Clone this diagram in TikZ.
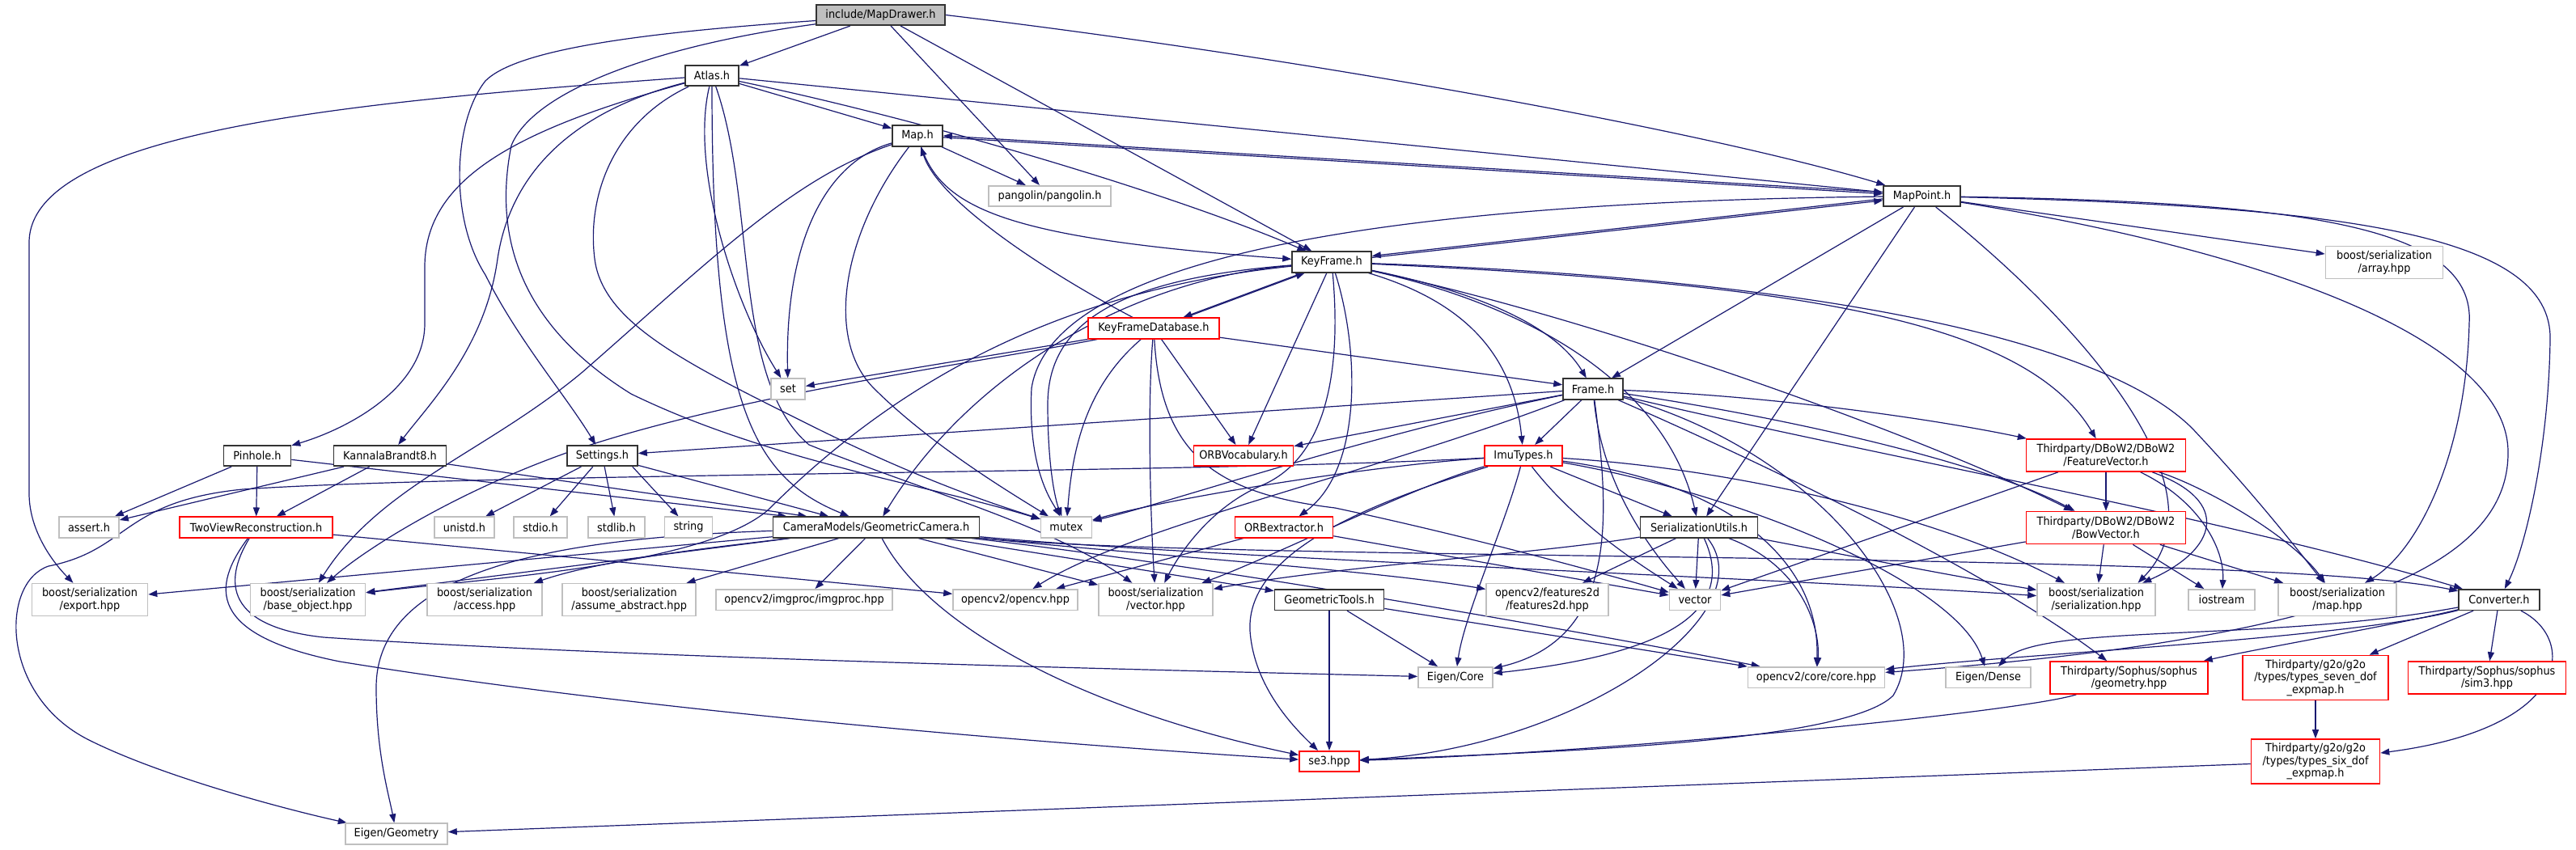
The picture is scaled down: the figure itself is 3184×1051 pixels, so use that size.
\documentclass[tikz,border=0pt]{standalone}
\usepackage{fontspec}
\setmainfont[FakeStretch=0.92]{DejaVu Sans}
\usetikzlibrary{arrows.meta}
\definecolor{eblue}{HTML}{191970}
\definecolor{gborder}{HTML}{BFBFBF}
\definecolor{bborder}{HTML}{333333}
\definecolor{rborder}{HTML}{FF0000}
\definecolor{rootfill}{HTML}{BFBFBF}
\begin{document}
\begin{tikzpicture}[x=1pt,y=-1pt,
  nbase/.style={inner sep=0pt, minimum height=25.5pt, align=center, text=black, font=\fontsize{14}{15.5}\selectfont, fill=white},
  nb/.style={nbase, draw=bborder, line width=1.6pt},
  nr/.style={nbase, draw=rborder, line width=1.6pt},
  ng/.style={nbase, draw=gborder, line width=1.6pt},
  nroot/.style={nbase, draw=bborder, fill=rootfill, line width=1.6pt},
  htwo/.style={minimum height=40pt},
  hthree/.style={minimum height=55pt},
  edg/.style={draw=eblue, line width=1.2pt, -{Triangle[length=11pt,width=8pt]}}]
\fill[white] (0,0) rectangle (3184,1051);
\useasboundingbox (0,0) rectangle (3184,1051);

\path
 node[nroot, minimum width=159pt] (MD) at (1088.5,18.5) {include/MapDrawer.h}
 node[nb, minimum width=66pt] (Atlas) at (880,93.5) {Atlas.h}
 node[nb, minimum width=62pt] (Map) at (1134,168) {Map.h}
 node[ng, minimum width=151pt] (pangolin) at (1297.5,242.5) {pangolin/pangolin.h}
 node[nb, minimum width=95pt] (MapPoint) at (2375.5,242.5) {MapPoint.h}
 node[ng, htwo, minimum width=145pt] (array) at (2947,324.5) {boost/serialization\\/array.hpp}
 node[nb, minimum width=98pt] (KeyFrame) at (1646,324) {KeyFrame.h}
 node[nr, minimum width=162pt] (KFD) at (1426,406) {KeyFrameDatabase.h}
 node[ng, minimum width=42pt] (set) at (974,481) {set}
 node[nb, minimum width=74pt] (Frame) at (1969,481) {Frame.h}
 node[nb, minimum width=87pt] (Settings) at (744.5,563.5) {Settings.h}
 node[nb, minimum width=83pt] (Pinhole) at (318,563.5) {Pinhole.h}
 node[nb, minimum width=139pt] (Kannala) at (482,563.5) {KannalaBrandt8.h}
 node[nr, minimum width=123pt] (ORBVoc) at (1537,563.5) {ORBVocabulary.h}
 node[nr, minimum width=96pt] (ImuTypes) at (1883,563.5) {ImuTypes.h}
 node[nr, htwo, minimum width=197pt] (FeatVec) at (2603,563) {Thirdparty/DBoW2/DBoW2\\/FeatureVector.h}
 node[ng, minimum width=74pt] (assert) at (110,652) {assert.h}
 node[nr, minimum width=189pt] (TwoView) at (316.5,652) {TwoViewReconstruction.h}
 node[ng, minimum width=74pt] (unistd) at (574,652) {unistd.h}
 node[ng, minimum width=66pt] (stdio) at (668,652) {stdio.h}
 node[ng, minimum width=70pt] (stdlib) at (762,652) {stdlib.h}
 node[ng, minimum width=59pt] (string) at (851,652) {string}
 node[nb, minimum width=255pt] (GeoCam) at (1083,652) {CameraModels/GeometricCamera.h}
 node[ng, minimum width=63pt] (mutex) at (1318,652) {mutex}
 node[nr, minimum width=121pt] (ORBext) at (1587,652) {ORBextractor.h}
 node[nb, minimum width=145pt] (SerUtils) at (2100,652) {SerializationUtils.h}
 node[nr, htwo, minimum width=197pt] (BowVec) at (2603,652.6) {Thirdparty/DBoW2/DBoW2\\/BowVector.h}
 node[ng, htwo, minimum width=143pt] (export) at (111,741.6) {boost/serialization\\/export.hpp}
 node[ng, htwo, minimum width=142pt] (baseobj) at (380.6,741.6) {boost/serialization\\/base\_object.hpp}
 node[ng, htwo, minimum width=142pt] (access) at (599,741.6) {boost/serialization\\/access.hpp}
 node[ng, htwo, minimum width=165pt] (assume) at (777.7,741.6) {boost/serialization\\/assume\_abstract.hpp}
 node[ng, minimum width=218pt] (imgproc) at (994,741.6) {opencv2/imgproc/imgproc.hpp}
 node[ng, minimum width=154pt] (opencv) at (1255,741.6) {opencv2/opencv.hpp}
 node[ng, htwo, minimum width=141pt] (vectorhpp) at (1428.5,741.6) {boost/serialization\\/vector.hpp}
 node[nb, minimum width=135pt] (GeoTools) at (1643,741.6) {GeometricTools.h}
 node[ng, htwo, minimum width=151pt] (features2d) at (1912.5,741.6) {opencv2/features2d\\/features2d.hpp}
 node[ng, minimum width=63pt] (vector) at (2095,741.6) {vector}
 node[ng, htwo, minimum width=146pt] (serialization) at (2591,741.6) {boost/serialization\\/serialization.hpp}
 node[ng, minimum width=82pt] (iostream) at (2746,741.6) {iostream}
 node[ng, htwo, minimum width=146pt] (maphpp) at (2889,741.6) {boost/serialization\\/map.hpp}
 node[nb, minimum width=100pt] (Converter) at (3089,741.6) {Converter.h}
 node[ng, minimum width=92pt] (EigenCore) at (1799,837.6) {Eigen/Core}
 node[ng, minimum width=169pt] (corehpp) at (2245,837.6) {opencv2/core/core.hpp}
 node[ng, minimum width=105pt] (EigenDense) at (2457.5,837.6) {Eigen/Dense}
 node[nr, htwo, minimum width=195pt] (geometry) at (2631.5,838) {Thirdparty/Sophus/sophus\\/geometry.hpp}
 node[nr, hthree, minimum width=180pt] (sevendof) at (2862,838) {Thirdparty/g2o/g2o\\/types/types\_seven\_dof\\\_expmap.h}
 node[nr, htwo, minimum width=195pt] (sim3) at (3074,838) {Thirdparty/Sophus/sophus\\/sim3.hpp}
 node[nr, minimum width=74pt] (se3) at (1643,941.5) {se3.hpp}
 node[nr, hthree, minimum width=159pt] (sixdof) at (2862,941.5) {Thirdparty/g2o/g2o\\/types/types\_six\_dof\\\_expmap.h}
 node[ng, minimum width=126pt] (EigenGeometry) at (490,1031) {Eigen/Geometry};

% MapDrawer
\draw[edg] (MD) -- (Atlas);
\draw[edg] (MD) -- (pangolin);
\draw[edg] (MD) -- (KeyFrame);
\draw[edg] (MD.east) .. controls (1600,70) and (2100,160) .. (MapPoint);
\draw[edg] (MD.185) .. controls (800,40) and (640,60) .. (600,100) .. controls (560,150) and (555,270) .. (600,340) .. controls (640,420) and (700,490) .. (Settings);
\draw[edg] (MD.188) .. controls (820,55) and (660,110) .. (632,180) .. controls (610,290) and (640,400) .. (780,487) .. controls (950,570) and (1150,600) .. (mutex);
% Atlas
\draw[edg] (Atlas) -- (Map);
\draw[edg] (Atlas) -- (MapPoint);
\draw[edg] (Atlas) .. controls (1150,150) and (1450,240) .. (KeyFrame);
\draw[edg] (Atlas) .. controls (852,210) and (910,380) .. (set);
\draw[edg] (Atlas) .. controls (880,500) and (930,590) .. (GeoCam);
\draw[edg] (Atlas) .. controls (935,250) and (905,470) .. (1000,550) .. controls (1150,610) and (1300,650) .. (vectorhpp);
\draw[edg] (Atlas) .. controls (450,125) and (36,160) .. (36,300) -- (36,610) .. controls (36,660) and (70,700) .. (export);
\draw[edg] (Atlas) .. controls (640,160) and (525,220) .. (525,330) -- (525,400) .. controls (525,480) and (430,530) .. (Pinhole);
\draw[edg] (Atlas) .. controls (700,140) and (630,220) .. (615,320) .. controls (600,430) and (530,500) .. (Kannala);
\draw[edg] (Atlas) .. controls (760,150) and (725,240) .. (735,320) .. controls (745,400) and (850,450) .. (1000,525) .. controls (1150,600) and (1250,630) .. (mutex);
% Map
\draw[edg] (Map) -- (MapPoint);
\draw[edg, transform canvas={yshift=2pt}] (MapPoint) -- (Map);
\draw[edg] (Map) .. controls (1165,260) and (1250,295) .. (KeyFrame);
\draw[edg] (Map) -- (pangolin);
\draw[edg] (Map) .. controls (1020,200) and (970,300) .. (set);
\draw[edg] (Map) .. controls (980,220) and (880,320) .. (720,460) .. controls (600,560) and (470,600) .. (baseobj);
\draw[edg] (Map) .. controls (1040,290) and (1020,420) .. (1080,480) .. controls (1150,550) and (1250,610) .. (mutex);
% MapPoint
\draw[edg] (KeyFrame) -- (MapPoint);
\draw[edg, transform canvas={yshift=2pt}] (MapPoint) -- (KeyFrame);
\draw[edg] (MapPoint) -- (Frame);
\draw[edg] (MapPoint) .. controls (2900,255) and (3155,290) .. (3152,420) .. controls (3150,560) and (3120,680) .. (Converter);
\draw[edg] (MapPoint) .. controls (2850,250) and (3060,280) .. (3052,400) .. controls (3048,560) and (2990,680) .. (maphpp);
\draw[edg] (MapPoint) -- (array);
\draw[edg] (MapPoint) .. controls (2800,310) and (3101,420) .. (3100,560) .. controls (3100,700) and (2900,790) .. (corehpp);
\draw[edg] (MapPoint) -- (SerUtils);
\draw[edg] (MapPoint) .. controls (2550,380) and (2760,600) .. (serialization.22);
\draw[edg] (MapPoint) .. controls (1700,250) and (1300,320) .. (1275,480) .. controls (1270,580) and (1300,620) .. (mutex);
% KeyFrame
\draw[edg] (KeyFrame) -- (KFD);
\draw[edg, transform canvas={xshift=3pt}] (KFD) -- (KeyFrame);
\draw[edg] (KeyFrame) -- (ORBVoc);
\draw[edg] (KeyFrame) .. controls (1680,430) and (1685,580) .. (ORBext);
\draw[edg] (KeyFrame) .. controls (1660,480) and (1630,570) .. (1560,600) .. controls (1500,625) and (1460,680) .. (vectorhpp);
\draw[edg] (KeyFrame) .. controls (1820,360) and (1920,400) .. (Frame);
\draw[edg] (KeyFrame) .. controls (1800,370) and (1870,430) .. (ImuTypes);
\draw[edg] (KeyFrame) .. controls (1900,380) and (2060,480) .. (SerUtils);
\draw[edg] (KeyFrame) .. controls (2000,400) and (2400,550) .. (BowVec);
\draw[edg] (KeyFrame) .. controls (2200,350) and (2500,390) .. (FeatVec);
\draw[edg] (KeyFrame) .. controls (2250,345) and (2600,420) .. (2710,530) .. controls (2790,615) and (2840,680) .. (maphpp);
\draw[edg] (KeyFrame) .. controls (1400,345) and (1200,460) .. (GeoCam);
\draw[edg] (KeyFrame) .. controls (1300,360) and (1100,480) .. (950,630) .. controls (870,700) and (600,715) .. (baseobj);
\draw[edg] (KeyFrame) .. controls (1380,345) and (1295,400) .. (1295,500) .. controls (1295,580) and (1305,620) .. (mutex);
% KeyFrameDatabase
\draw[edg] (KFD) .. controls (1300,340) and (1160,250) .. (Map);
\draw[edg] (KFD) -- (set);
\draw[edg] (KFD) .. controls (1200,450) and (900,490) .. (700,560) .. controls (560,610) and (450,680) .. (baseobj);
\draw[edg] (KFD) .. controls (1340,480) and (1325,560) .. (mutex);
\draw[edg] (KFD) .. controls (1418,500) and (1422,640) .. (vectorhpp);
\draw[edg] (KFD) .. controls (1435,560) and (1500,610) .. (1650,628) .. controls (1800,660) and (1950,700) .. (vector);
\draw[edg] (KFD) -- (ORBVoc);
\draw[edg] (KFD) -- (Frame);
% Frame
\draw[edg] (Frame) -- (Settings);
\draw[edg] (Frame) -- (ORBVoc);
\draw[edg] (Frame) .. controls (1700,535) and (1450,620) .. (mutex);
\draw[edg] (Frame) .. controls (1700,585) and (1400,650) .. (opencv);
\draw[edg] (Frame) -- (ImuTypes);
\draw[edg] (Frame) .. controls (1980,600) and (2040,680) .. (vector);
\draw[edg] (Frame) .. controls (1990,640) and (2000,790) .. (EigenCore);
\draw[edg] (Frame) .. controls (2250,560) and (2400,760) .. (2340,860) .. controls (2280,920) and (1900,930) .. (se3);
\draw[edg] (Frame) .. controls (2200,515) and (2450,570) .. (BowVec);
\draw[edg] (Frame) .. controls (2200,490) and (2400,520) .. (FeatVec);
\draw[edg] (Frame) .. controls (2300,560) and (2750,640) .. (Converter);
\draw[edg] (Frame) .. controls (2150,560) and (2450,700) .. (geometry);
% ImuTypes
\draw[edg] (ImuTypes) .. controls (1700,575) and (1450,615) .. (mutex);
\draw[edg] (ImuTypes) .. controls (1750,600) and (1570,690) .. (vectorhpp);
\draw[edg] (ImuTypes) .. controls (1500,585) and (600,585) .. (300,605) .. controls (150,620) and (160,680) .. (60,700) .. controls (0,720) and (0,860) .. (110,915) .. controls (200,960) and (350,1000) .. (EigenGeometry);
\draw[edg] (ImuTypes) .. controls (1860,650) and (1810,760) .. (EigenCore);
\draw[edg] (ImuTypes) .. controls (1950,650) and (2030,700) .. (vector);
\draw[edg] (ImuTypes) -- (SerUtils);
\draw[edg] (ImuTypes) .. controls (2150,600) and (2250,700) .. (corehpp);
\draw[edg] (ImuTypes) .. controls (2150,580) and (2400,640) .. (serialization);
\draw[edg] (ImuTypes) .. controls (2150,610) and (2420,720) .. (EigenDense);
\draw[edg] (ImuTypes) .. controls (1700,620) and (1540,680) .. (1545,780) .. controls (1550,850) and (1600,900) .. (se3);
% SerializationUtils
\draw[edg] (SerUtils) .. controls (1900,685) and (1650,700) .. (vectorhpp);
\draw[edg] (SerUtils) -- (features2d);
\draw[edg] (SerUtils) -- (vector);
\draw[edg] (SerUtils) .. controls (2150,760) and (2050,810) .. (EigenCore);
\draw[edg] (SerUtils) .. controls (2185,760) and (1950,925) .. (se3);
\draw[edg] (SerUtils) .. controls (2230,700) and (2250,780) .. (corehpp);
\draw[edg] (SerUtils) .. controls (2250,680) and (2400,710) .. (serialization);
% GeometricCamera
\draw[edg] (GeoCam) -- (export);
\draw[edg] (GeoCam) -- (baseobj);
\draw[edg] (GeoCam) .. controls (900,675) and (750,690) .. (access);
\draw[edg] (GeoCam) -- (assume);
\draw[edg] (GeoCam) -- (imgproc);
\draw[edg] (GeoCam) -- (vectorhpp);
\draw[edg] (GeoCam) .. controls (1150,780) and (1350,880) .. (se3);
\draw[edg] (GeoCam) -- (GeoTools);
\draw[edg] (GeoCam) .. controls (1500,695) and (2800,680) .. (Converter);
\draw[edg] (GeoCam) .. controls (1500,700) and (1950,780) .. (corehpp);
\draw[edg] (GeoCam) .. controls (1400,685) and (1700,705) .. (features2d);
\draw[edg] (GeoCam) .. controls (1500,690) and (2200,715) .. (serialization);
\draw[edg] (GeoCam) .. controls (700,665) and (465,700) .. (465,850) .. controls (465,930) and (480,980) .. (EigenGeometry);
% Settings, Pinhole, KannalaBrandt8
\draw[edg] (Settings) -- (unistd);
\draw[edg] (Settings) -- (stdio);
\draw[edg] (Settings) -- (stdlib);
\draw[edg] (Settings.-20) -- (string);
\draw[edg] (Settings) -- (GeoCam.167);
\draw[edg] (Pinhole) -- (assert);
\draw[edg] (Pinhole) -- (TwoView);
\draw[edg] (Pinhole) -- (GeoCam.173);
\draw[edg] (Kannala) -- (assert);
\draw[edg] (Kannala) -- (TwoView);
\draw[edg] (Kannala) -- (GeoCam.171);
% TwoViewReconstruction
\draw[edg] (TwoView) -- (opencv);
\draw[edg] (TwoView) .. controls (275,720) and (280,775) .. (400,788) .. controls (800,815) and (1500,830) .. (EigenCore);
\draw[edg] (TwoView) .. controls (262,725) and (255,785) .. (420,818) .. controls (800,880) and (1300,920) .. (se3);
% ORBextractor, GeometricTools
\draw[edg] (ORBext) -- (opencv);
\draw[edg] (ORBext) -- (vector);
\draw[edg] (GeoTools) -- (se3);
\draw[edg] (GeoTools) -- (EigenCore);
\draw[edg] (GeoTools) -- (corehpp);
% DBoW2
\draw[edg] (FeatVec) -- (BowVec);
\draw[edg] (FeatVec) .. controls (2760,620) and (2740,680) .. (serialization.20);
\draw[edg] (FeatVec) .. controls (2720,620) and (2750,680) .. (iostream);
\draw[edg] (FeatVec) .. controls (2720,600) and (2830,660) .. (maphpp);
\draw[edg] (FeatVec) -- (vector);
\draw[edg] (BowVec) -- (serialization);
\draw[edg] (BowVec) -- (iostream);
\draw[edg] (BowVec) -- (maphpp);
\draw[edg] (BowVec) -- (vector);
% Converter and below
\draw[edg] (Converter) .. controls (2900,790) and (2500,808) .. (corehpp);
\draw[edg] (Converter) .. controls (2800,795) and (2520,770) .. (EigenDense);
\draw[edg] (Converter) .. controls (2950,775) and (2800,800) .. (geometry);
\draw[edg] (Converter) -- (sevendof);
\draw[edg] (Converter) -- (sim3);
\draw[edg] (Converter) .. controls (3185,790) and (3180,900) .. (sixdof);
\draw[edg] (sevendof) -- (sixdof);
\draw[edg] (geometry) .. controls (2500,880) and (2000,930) .. (se3);
\draw[edg] (sixdof) -- (EigenGeometry);

% redraw nodes on top of edges
\path
 node[nroot, minimum width=159pt] at (MD) {include/MapDrawer.h}
 node[nb, minimum width=66pt] at (Atlas) {Atlas.h}
 node[nb, minimum width=62pt] at (Map) {Map.h}
 node[ng, minimum width=151pt] at (pangolin) {pangolin/pangolin.h}
 node[nb, minimum width=95pt] at (MapPoint) {MapPoint.h}
 node[ng, htwo, minimum width=145pt] at (array) {boost/serialization\\/array.hpp}
 node[nb, minimum width=98pt] at (KeyFrame) {KeyFrame.h}
 node[nr, minimum width=162pt] at (KFD) {KeyFrameDatabase.h}
 node[ng, minimum width=42pt] at (set) {set}
 node[nb, minimum width=74pt] at (Frame) {Frame.h}
 node[nb, minimum width=87pt] at (Settings) {Settings.h}
 node[nb, minimum width=83pt] at (Pinhole) {Pinhole.h}
 node[nb, minimum width=139pt] at (Kannala) {KannalaBrandt8.h}
 node[nr, minimum width=123pt] at (ORBVoc) {ORBVocabulary.h}
 node[nr, minimum width=96pt] at (ImuTypes) {ImuTypes.h}
 node[nr, htwo, minimum width=197pt] at (FeatVec) {Thirdparty/DBoW2/DBoW2\\/FeatureVector.h}
 node[ng, minimum width=74pt] at (assert) {assert.h}
 node[nr, minimum width=189pt] at (TwoView) {TwoViewReconstruction.h}
 node[ng, minimum width=74pt] at (unistd) {unistd.h}
 node[ng, minimum width=66pt] at (stdio) {stdio.h}
 node[ng, minimum width=70pt] at (stdlib) {stdlib.h}
 node[ng, minimum width=59pt] at (string) {string}
 node[nb, minimum width=255pt] at (GeoCam) {CameraModels/GeometricCamera.h}
 node[ng, minimum width=63pt] at (mutex) {mutex}
 node[nr, minimum width=121pt] at (ORBext) {ORBextractor.h}
 node[nb, minimum width=145pt] at (SerUtils) {SerializationUtils.h}
 node[nr, htwo, minimum width=197pt] at (BowVec) {Thirdparty/DBoW2/DBoW2\\/BowVector.h}
 node[ng, htwo, minimum width=143pt] at (export) {boost/serialization\\/export.hpp}
 node[ng, htwo, minimum width=142pt] at (baseobj) {boost/serialization\\/base\_object.hpp}
 node[ng, htwo, minimum width=142pt] at (access) {boost/serialization\\/access.hpp}
 node[ng, htwo, minimum width=165pt] at (assume) {boost/serialization\\/assume\_abstract.hpp}
 node[ng, minimum width=218pt] at (imgproc) {opencv2/imgproc/imgproc.hpp}
 node[ng, minimum width=154pt] at (opencv) {opencv2/opencv.hpp}
 node[ng, htwo, minimum width=141pt] at (vectorhpp) {boost/serialization\\/vector.hpp}
 node[nb, minimum width=135pt] at (GeoTools) {GeometricTools.h}
 node[ng, htwo, minimum width=151pt] at (features2d) {opencv2/features2d\\/features2d.hpp}
 node[ng, minimum width=63pt] at (vector) {vector}
 node[ng, htwo, minimum width=146pt] at (serialization) {boost/serialization\\/serialization.hpp}
 node[ng, minimum width=82pt] at (iostream) {iostream}
 node[ng, htwo, minimum width=146pt] at (maphpp) {boost/serialization\\/map.hpp}
 node[nb, minimum width=100pt] at (Converter) {Converter.h}
 node[ng, minimum width=92pt] at (EigenCore) {Eigen/Core}
 node[ng, minimum width=169pt] at (corehpp) {opencv2/core/core.hpp}
 node[ng, minimum width=105pt] at (EigenDense) {Eigen/Dense}
 node[nr, htwo, minimum width=195pt] at (geometry) {Thirdparty/Sophus/sophus\\/geometry.hpp}
 node[nr, hthree, minimum width=180pt] at (sevendof) {Thirdparty/g2o/g2o\\/types/types\_seven\_dof\\\_expmap.h}
 node[nr, htwo, minimum width=195pt] at (sim3) {Thirdparty/Sophus/sophus\\/sim3.hpp}
 node[nr, minimum width=74pt] at (se3) {se3.hpp}
 node[nr, hthree, minimum width=159pt] at (sixdof) {Thirdparty/g2o/g2o\\/types/types\_six\_dof\\\_expmap.h}
 node[ng, minimum width=126pt] at (EigenGeometry) {Eigen/Geometry};
\end{tikzpicture}
\end{document}
